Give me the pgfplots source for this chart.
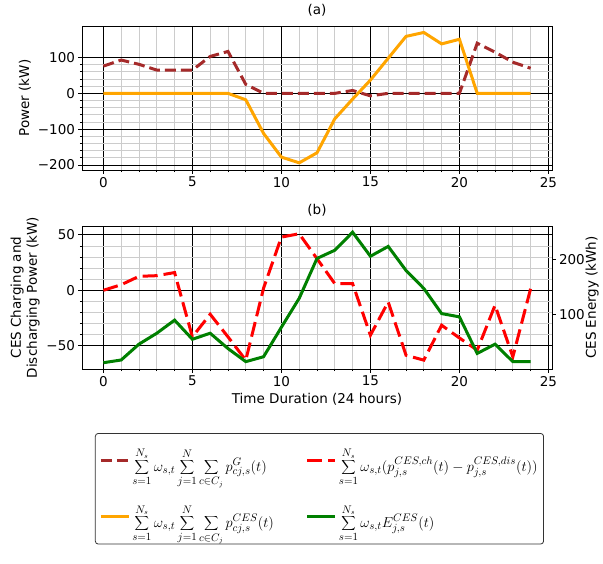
\documentclass[border=0pt]{standalone}
\usepackage{fontspec}
\setmainfont{DejaVu Sans}
\usepackage{pgfplots}
\pgfplotsset{compat=1.18}
\definecolor{cbrown}{HTML}{A52A2A}
\definecolor{corange}{HTML}{FFA500}
\definecolor{cred}{HTML}{FF0000}
\definecolor{cgreen}{HTML}{008000}
\newcommand\fs{\fontsize{13.5}{16}\selectfont}
\newcommand\lfs{\fontsize{15}{18}\selectfont}

\pgfplotsset{
  panel/.style={
    scale only axis, width=470pt,
    xmin=-1.2, xmax=25.2,
    xtick={0,5,...,25}, xticklabels={0,5,10,15,20,25},
    minor x tick num=4,
    grid=both,
    major grid style={black, line width=0.8pt},
    minor grid style={black!20, line width=0.8pt},
    tick align=outside, xtick pos=left, ytick pos=left,
    major tick length=3.5pt, minor tick length=2pt,
    every tick/.style={black, line width=0.8pt},
    axis line style={line width=0.8pt},
    tick label style={font=\fs},
    label style={font=\fs},
    title style={font=\fs},
  },
  legend image code/.code={\draw[#1] (0pt,0pt) -- (28pt,0pt);},
}

\begin{document}
\begin{tikzpicture}
\path[use as bounding box] (0,0) rectangle (603pt,-563pt);

% (a) power
\begin{axis}[panel, at={(82pt,-26pt)}, anchor=north west, height=144pt,
  ymin=-214, ymax=188,
  ytick={-200,-100,0,100}, yticklabels={−200,−100,0,100},
  minor y tick num=4,
  title={(a)}, ylabel={Power (kW)}]
\addplot[cbrown, line width=3pt, dash pattern=on 11pt off 5pt] coordinates {
(0,76)(1,93)(2,81)(3,65)(4,65)(5,65)(6,103)(7,117)(8,25)(9,0)(10,0)(11,0)(12,0)
(13,0)(14,8)(15,-7)(16,0)(17,0)(18,0)(19,0)(20,0)(21,140)(22,115)(23,87)(24,70)};
\addplot[corange, line width=3pt] coordinates {
(0,0)(1,0)(2,0)(3,0)(4,0)(5,0)(6,0)(7,0)(8,-18)(9,-112)(10,-178)(11,-194)(12,-166)
(13,-71)(14,-16)(15,37)(16,98)(17,159)(18,170)(19,138)(20,151)(21,0)(22,0)(23,0)(24,0)};
\end{axis}

% (b) CES power, left axis
\begin{axis}[panel, at={(82pt,-226pt)}, anchor=north west, height=143pt,
  ymin=-71, ymax=58,
  ytick={-50,0,50}, yticklabels={−50,0,50},
  minor y tick num=4,
  title={(b)}, xlabel={Time Duration (24 hours)},
  ylabel={CES Charging and\\Discharging Power (kW)}, ylabel style={align=center}]
\addplot[cred, line width=3pt, dash pattern=on 15pt off 6pt] coordinates {
(0,0)(1,5)(2,12.6)(3,13.2)(4,16)(5,-42)(6,-21.6)(7,-42)(8,-63)(9,2)(10,48)(11,51)
(12,28.5)(13,6)(14,6)(15,-40.5)(16,-10.5)(17,-58.6)(18,-63)(19,-31.5)(20,-43)
(21,-54)(22,-13.5)(23,-60)(24,1.5)};
\end{axis}

% (b) CES energy, right axis
\begin{axis}[scale only axis, width=470pt, height=143pt,
  at={(82pt,-226pt)}, anchor=north west,
  xmin=-1.2, xmax=25.2, axis x line=none, axis y line*=right,
  ymin=-0.5, ymax=261.4, ytick={100,200}, yticklabels={100,200},
  tick align=outside, ytick pos=right, major tick length=3.5pt,
  every tick/.style={black, line width=0.8pt},
  axis line style={line width=0.8pt},
  tick label style={font=\fs}, label style={font=\fs},
  ylabel={CES Energy (kWh)}, ylabel shift=-6pt,
  legend columns=2,
  legend style={at={(0.0275,-0.4476)}, anchor=north west,
    draw=black!80, rounded corners=3pt, line width=0.8pt,
    font=\lfs, inner xsep=4pt, inner ysep=13pt, row sep=28pt,
    cells={anchor=west},
    /tikz/every even column/.append style={column sep=30pt}}]
\addlegendimage{cbrown, line width=3pt, dash pattern=on 11pt off 5pt}
\addlegendentry{$\displaystyle\sum_{s=1}^{N_s}\omega_{s,t}\sum_{j=1}^{N}\sum_{c\in C_j}p^{G}_{cj,s}(t)$}
\addlegendimage{cred, line width=3pt, dash pattern=on 15pt off 6pt}
\addlegendentry{$\displaystyle\sum_{s=1}^{N_s}\omega_{s,t}(p^{CES,ch}_{j,s}(t)-p^{CES,dis}_{j,s}(t))$}
\addlegendimage{corange, line width=3pt}
\addlegendentry{$\displaystyle\sum_{s=1}^{N_s}\omega_{s,t}\sum_{j=1}^{N}\sum_{c\in C_j}p^{CES}_{cj,s}(t)$}
\addplot[cgreen, line width=3pt] coordinates {
(0,11)(1,16)(2,45)(3,65)(4,89)(5,54)(6,65)(7,37)(8,13)(9,22)(10,76)(11,129)(12,202)
(13,217)(14,250)(15,206)(16,224)(17,180)(18,147)(19,101)(20,95)(21,28)(22,45)(23,13)(24,13)};
\addlegendentry{$\displaystyle\sum_{s=1}^{N_s}\omega_{s,t}E^{CES}_{j,s}(t)$}
\end{axis}
\end{tikzpicture}
\end{document}
